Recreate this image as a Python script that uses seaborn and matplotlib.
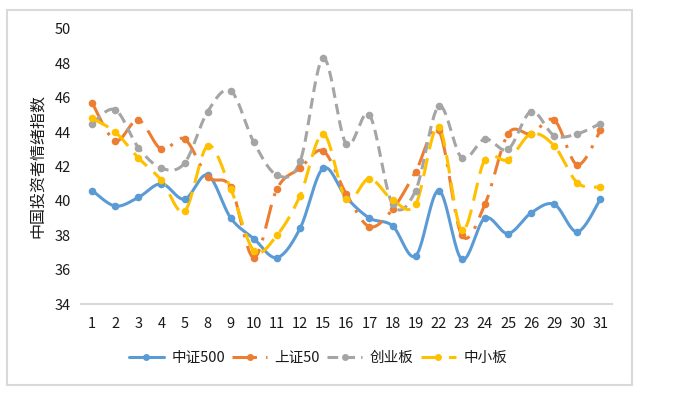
import numpy as np
import pandas as pd
import matplotlib
matplotlib.use("Agg")
import matplotlib.pyplot as plt
from matplotlib.lines import Line2D
from matplotlib.patches import Rectangle
import seaborn as sns

days = ["1", "2", "3", "4", "5", "8", "9", "10", "11", "12", "15", "16", "17",
        "18", "19", "22", "23", "24", "25", "26", "29", "30", "31"]
zz500 = [40.6, 39.7, 40.2, 41.0, 40.1, 41.5, 39.0, 37.8, 36.7, 38.4, 41.9, 40.2, 39.0,
         38.55, 36.8, 40.6, 36.6, 39.0, 38.1, 39.3, 39.8, 38.2, 40.1]
sz50 = [45.7, 43.5, 44.7, 43.0, 43.6, 41.4, 40.8, 36.7, 40.7, 41.9, 42.9, 40.4, 38.5,
        39.5, 41.7, 44.1, 38.0, 39.8, 43.9, 43.9, 44.7, 42.1, 44.1]
cyb = [44.5, 45.3, 43.1, 41.9, 42.2, 45.2, 46.4, 43.4, 41.5, 42.3, 48.3, 43.3, 45.0,
       39.8, 40.6, 45.5, 42.5, 43.6, 43.0, 45.2, 43.8, 43.9, 44.5]
zxb = [44.8, 44.0, 42.5, 41.2, 39.4, 43.2, 40.7, 37.1, 38.0, 40.3, 43.9, 40.1, 41.3,
       40.05, 39.8, 44.3, 38.3, 42.4, 42.4, 43.9, 43.2, 41.05, 40.8]

names = ["中证500", "上证50", "创业板", "中小板"]
colors = ["#5B9BD5", "#ED7D31", "#A5A5A5", "#FFC000"]
styles = ["-", (0, (8, 3, 1, 3)), (0, (3.5, 2)), (0, (6, 3))]
series = [zz500, sz50, cyb, zxb]


def smooth(y, n=24):
    """Excel-like smoothed curve (Catmull-Rom as cubic Bezier)."""
    y = np.asarray(y, float)
    x = np.arange(len(y), dtype=float)
    P = np.column_stack([x, y])
    Pp = np.vstack([P[0], P, P[-1]])
    out = []
    t = np.linspace(0, 1, n)[:, None]
    for i in range(len(P) - 1):
        p0, p1, p2, p3 = Pp[i], Pp[i + 1], Pp[i + 2], Pp[i + 3]
        c1 = p1 + (p2 - p0) / 6.0
        c2 = p2 - (p3 - p1) / 6.0
        seg = ((1 - t) ** 3) * p1 + 3 * ((1 - t) ** 2) * t * c1 + 3 * (1 - t) * t ** 2 * c2 + t ** 3 * p2
        out.append(seg if i == 0 else seg[1:])
    out = np.vstack(out)
    return out[:, 0], out[:, 1]


sns.set_theme(style="white")
plt.rcParams["font.family"] = ["Noto Sans CJK SC", "DejaVu Sans"]

fig = plt.figure(figsize=(6.76, 3.97), dpi=100)
ax = fig.add_axes([80.6 / 676, 1 - 304 / 397, (612 - 80.6) / 676, (304 - 29) / 397])

xi = np.arange(len(days))
for name, vals, col, ls in zip(names, series, colors, styles):
    sx, sy = smooth(vals)
    sns.lineplot(x=sx, y=sy, ax=ax, color=col, linewidth=2.2, linestyle=ls,
                 estimator=None, sort=False, legend=False)
    sns.scatterplot(x=xi, y=vals, ax=ax, color=col, s=30, linewidth=0,
                    legend=False, zorder=3)

ax.set_xlim(-0.5, len(days) - 0.5)
ax.set_ylim(34, 50)
ax.set_yticks(np.arange(34, 51, 2))
ax.set_xticks(xi)
ax.set_xticklabels(days)
ax.tick_params(axis="both", length=0, labelsize=10.5, labelcolor="#1a1a1a")
ax.tick_params(axis="y", pad=7)
ax.tick_params(axis="x", pad=9)
for s in ["top", "right", "left"]:
    ax.spines[s].set_visible(False)
ax.spines["bottom"].set_color("#d9d9d9")
ax.spines["bottom"].set_linewidth(1.5)
ax.grid(False)
ax.set_xlabel("")
ax.set_ylabel("")

fig.text(37 / 676, 1 - 166 / 397, "中国投资者情绪指数", rotation=90, ha="center",
         va="center", fontsize=11.5, color="#1a1a1a")

handles = [Line2D([0], [0], color=c, linestyle=ls, linewidth=2.2, marker="o",
                  markersize=5, markeredgewidth=0)
           for c, ls in zip(colors, styles)]
fig.legend(handles, names, loc="center", bbox_to_anchor=(318 / 676, 1 - 358 / 397),
           ncol=4, frameon=False, fontsize=10.5, handlelength=2.4,
           handletextpad=0.5, columnspacing=0.5, labelcolor="#1a1a1a")

fig.patches.append(Rectangle((7 / 676, 1 - 385 / 397), 625 / 676, 375 / 397,
                             transform=fig.transFigure, fill=False,
                             edgecolor="#d9d9d9", linewidth=1.5))

fig.savefig("out.png", dpi=100)
